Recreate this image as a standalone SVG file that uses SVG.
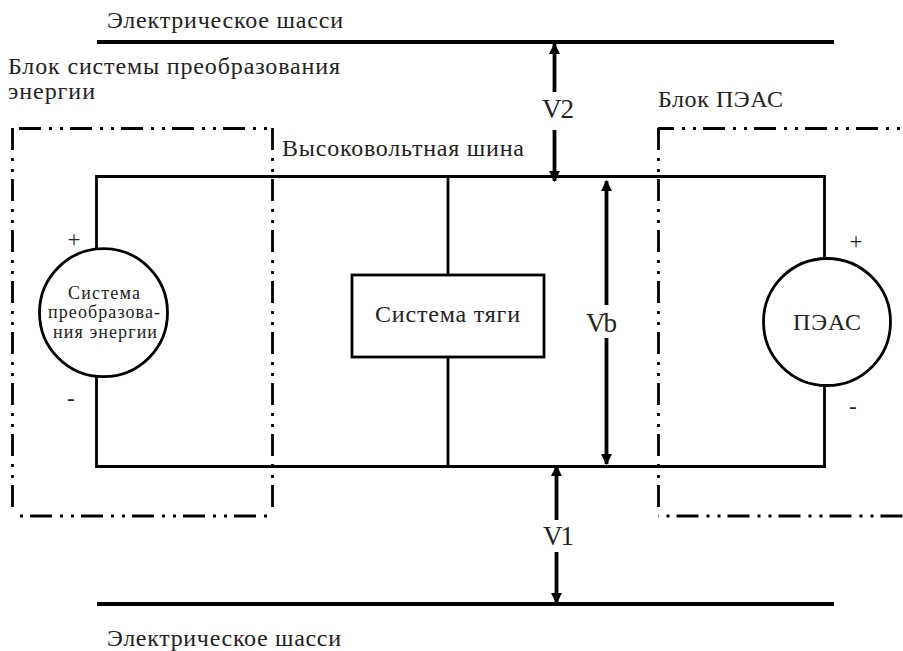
<svg xmlns="http://www.w3.org/2000/svg" width="903" height="651" viewBox="0 0 903 651">
<style>
text{font-family:"Liberation Serif","Times New Roman",serif;fill:#222;font-size:24px}
.w{fill:none;stroke:#000;stroke-width:2.8}
.bus{fill:none;stroke:#000;stroke-width:4}
.arr{fill:none;stroke:#000;stroke-width:3.8}
.dd{fill:none;stroke:#000;stroke-width:2.800;stroke-dasharray:22 8 3 8 3 7}
.s{font-size:18px}
.p{font-size:23px}
.v{font-size:27px}
</style>
<defs>
<marker id="a" viewBox="0 0 10 10" refX="9" refY="5" markerWidth="11" markerHeight="12" markerUnits="userSpaceOnUse" orient="auto-start-reverse"><path d="M0 0L10 5L0 10Z" fill="#000"/></marker>
</defs>
<g id="connectors">
<path class="bus" d="M97 42H834M97 604H834"/>
<path class="w" d="M448 176V275M448 357V467"/>
<path class="w" d="M96.500 249V176.500H824.500V257M96.500 377V466.500H824.500V387"/>
<path class="arr" marker-start="url(#a)" d="M554.500 44V92"/>
<path class="arr" marker-end="url(#a)" d="M554.500 130V181"/>
<path class="arr" marker-start="url(#a)" d="M606.500 181V305"/>
<path class="arr" marker-end="url(#a)" d="M606.500 338V464"/>
<path class="arr" marker-start="url(#a)" d="M556.500 466V520"/>
<path class="arr" marker-end="url(#a)" d="M556.500 552V603"/>
</g>
<g id="block-conversion">
<path class="dd" d="M19 128.500H272"/>
<path class="dd" d="M12.500 128V515"/>
<path class="dd" d="M272.500 128V515"/>
<path class="dd" stroke-dashoffset="-18" d="M12 516H272"/>
<text x="8" y="74" textLength="332">Блок системы преобразования</text>
<text x="8" y="99" textLength="87">энергии</text>
</g>
<g id="block-peas">
<path class="dd" stroke-dashoffset="6" d="M658 128.500H903"/>
<path class="dd" d="M658.500 128V515"/>
<path class="dd" stroke-dashoffset="-18.500" d="M658 516H903"/>
<text x="658" y="107" textLength="125">Блок ПЭАС</text>
</g>
<g id="source">
<circle class="w" cx="103.500" cy="312.700" r="64" fill="#fff"/>
<text class="s" x="68" y="299" textLength="72">Система</text>
<text class="s" x="48" y="318" textLength="112">преобразова-</text>
<text class="s" x="53" y="338" textLength="104">ния энергии</text>
<text class="p" x="67.500" y="247">+</text>
<text class="p" x="67" y="406">-</text>
</g>
<g id="traction">
<rect class="w" x="352" y="275" width="192" height="82" fill="#fff"/>
<text x="375" y="322" textLength="145">Система тяги</text>
</g>
<g id="peas">
<circle class="w" cx="827" cy="322" r="63.500" fill="#fff"/>
<text x="793" y="330" textLength="68">ПЭАС</text>
<text class="p" x="849.500" y="249">+</text>
<text class="p" x="849" y="414">-</text>
</g>
<g id="labels">
<text x="107" y="28" textLength="236">Электрическое шасси</text>
<text x="107" y="646" textLength="234">Электрическое шасси</text>
<text x="282" y="156" textLength="242">Высоковольтная шина</text>
<text class="v" x="542" y="118" textLength="32">V2</text>
<text class="v" x="586" y="332" textLength="31">Vb</text>
<text class="v" x="543" y="545" textLength="31">V1</text>
</g>
</svg>
